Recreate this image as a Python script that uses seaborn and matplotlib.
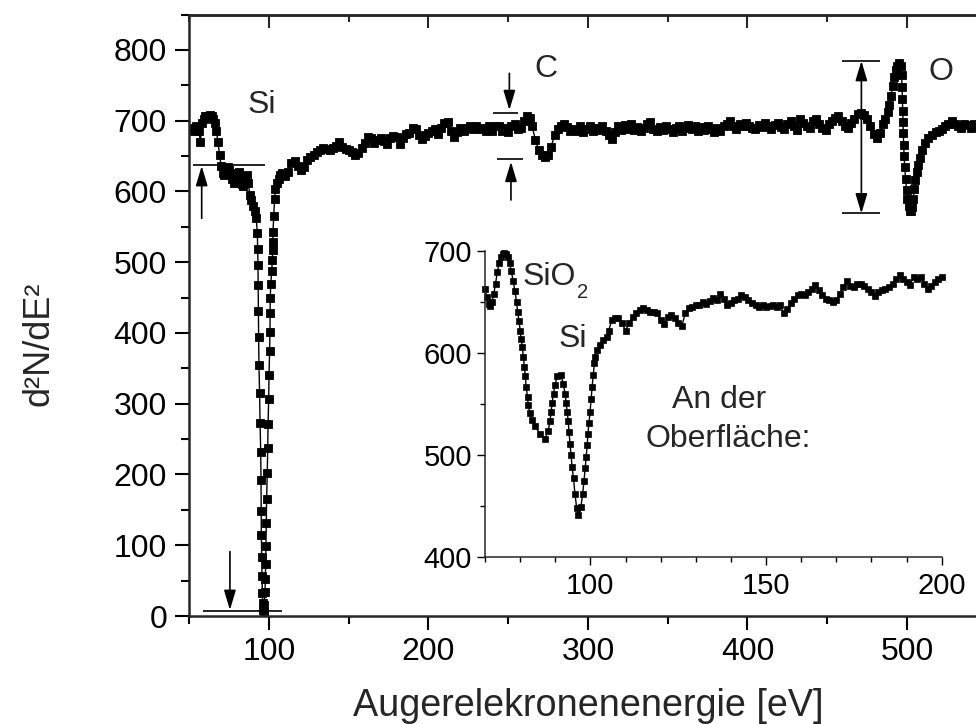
import matplotlib
matplotlib.use("Agg")
import matplotlib.pyplot as plt
from matplotlib.ticker import MultipleLocator
import pandas as pd
import seaborn as sns

# Survey spectrum: Auger electron energy [eV] and second derivative d2N/dE2
energy = [
    51, 52, 53, 54, 55, 56, 57, 58, 59, 60, 61, 62, 63, 64, 65, 66, 67, 68, 69, 70,
    71, 72, 73, 74, 75, 76, 77, 78, 79, 80, 81, 82, 83, 84, 85, 86, 87, 88, 89, 90,
    91, 92,
    92.7, 92.9, 93.1, 93.2, 93.3, 93.5, 93.7, 94.1, 94.4, 94.8, 95.0, 95.1, 95.2, 95.4,
    95.6, 95.8, 96.1, 96.4, 96.7, 97.0,
    97.1, 97.5, 97.7, 97.9, 98.1, 98.3, 98.5, 98.9, 99.2, 99.4, 99.8, 100.0, 100.4,
    100.6, 100.7, 100.8, 101.1, 101.7, 102.1, 102.3, 102.4, 102.5,
    103.0, 103.5, 104, 105, 106, 107, 108, 110, 112, 114, 116, 118, 120, 122, 124, 126,
    128, 130, 132, 134, 136, 138, 140, 142, 144, 146, 148, 150, 152, 154, 156, 158,
    160, 162, 164, 166, 168, 170, 172, 174, 176, 178, 180, 182, 184, 186, 188, 190,
    192, 194, 196, 198, 200, 202, 204, 206, 208, 210, 212, 214, 216, 218, 220, 222,
    224, 226, 228, 230, 232, 234, 236, 238, 240, 242, 244, 246, 248, 250, 252, 254,
    256, 258, 260, 262, 263.5, 265, 267, 269, 271, 273, 275, 277, 279, 281, 283, 285,
    287, 289, 291, 293, 295, 297, 299, 301, 303, 305, 307, 309, 311, 313, 315, 317,
    319, 321, 323, 325, 327, 329, 331, 333, 335, 337, 339, 341, 343, 345, 347, 349,
    351, 353, 355, 357, 359, 361, 363, 365, 367, 369, 371, 373, 375, 377, 379, 381,
    383, 385, 387, 389, 391, 393, 395, 397, 399, 401, 403, 405, 407, 409, 411, 413,
    415, 417, 419, 421, 423, 425, 427, 429, 431, 433, 435, 437, 439, 441, 443, 445,
    447, 449, 451, 453, 455, 457, 459, 461, 463, 465, 467, 469, 471, 473, 475, 477,
    479, 481, 483, 485, 486.5, 488, 489, 490, 491, 492, 493, 494, 495, 496,
    496.6, 496.9, 497.1, 497.3, 497.5, 497.7, 497.9, 498.2, 498.6, 499.1, 499.7,
    500.3, 501.0, 501.8, 502.6, 503.3, 503.9, 504.5, 505.2, 506.0, 507.0, 508.2,
    509.6, 511.2, 513.0, 515.5, 518, 520, 522, 524, 526, 528, 530, 532, 534, 536,
    538, 540, 542, 544, 546,
]
signal = [
    688, 690, 686, 692, 689, 686, 670, 697, 703, 706, 707, 705, 708, 706, 703, 697, 686, 670, 652, 636,
    626, 623, 628, 634, 630, 626, 618, 612, 618, 622, 628, 620, 610, 608, 618, 624, 612, 595, 588, 580,
    572, 562,
    541, 518, 496, 468, 431, 394, 355, 315, 273, 232, 192, 149, 114, 84,
    56, 32, 18, 8, 3, 6,
    16, 34, 53, 73, 99, 132, 166, 202, 237, 271, 306, 341, 375,
    402, 428, 450, 469, 487, 503, 517, 529, 543,
    565, 590, 603, 612, 618, 623, 626, 622, 628, 640, 643, 636, 631, 634, 645, 649,
    652, 656, 659, 662, 660, 658, 662, 664, 670, 663, 660, 659, 656, 651, 654, 661,
    668, 677, 675, 669, 673, 676, 672, 667, 675, 679, 677, 667, 675, 681, 683, 690,
    688, 680, 674, 679, 683, 685, 688, 681, 690, 697, 698, 685, 677, 684, 690, 686,
    690, 692, 688, 693, 688, 690, 685, 692, 686, 693, 692, 685, 690, 684, 692, 695,
    689, 690, 700, 707, 704, 692, 673, 659, 652, 649, 652, 663, 680, 689, 692, 696,
    691, 685, 689, 686, 692, 684, 689, 693, 685, 690, 687, 692, 685, 680, 674, 684,
    692, 687, 694, 689, 695, 687, 691, 686, 690, 696, 698, 689, 685, 691, 687, 693,
    689, 684, 690, 692, 686, 690, 694, 688, 692, 686, 691, 687, 693, 689, 684, 690,
    686, 692, 695, 699, 693, 688, 696, 692, 697, 693, 690, 688, 694, 691, 697, 693,
    689, 694, 697, 691, 688, 695, 699, 692, 687, 703, 697, 692, 690, 699, 703, 695,
    690, 687, 696, 700, 704, 707, 699, 692, 690, 697, 703, 709, 711, 708, 702, 693,
    681, 676, 683, 695, 703, 712, 722, 735, 749, 762, 772, 778, 781, 778,
    765, 748, 731, 714, 698, 682, 666, 650, 634, 618, 602,
    589, 579, 573, 572, 578, 590, 603, 616, 627, 637, 648,
    659, 668, 675, 680, 684, 686, 689, 692, 695, 699, 695, 692, 690, 696,
    694, 690, 695, 693, 691,
]

# Surface spectrum shown in the inset
energy_surface = [
    70.0, 70.5, 71.0, 71.5, 72.0, 72.5, 73.0, 73.5, 74.0, 74.5, 75.0, 75.5, 76.0, 76.5,
    77.0, 77.5, 78.0, 78.5, 79.0, 79.3, 79.7, 80.0, 80.3, 80.6, 80.9, 81.2, 81.5, 81.7,
    82.1, 82.3, 82.8, 83.3, 84.2, 85.7, 87.1, 88.0, 88.5, 88.8, 89.1, 89.5, 89.9, 90.6,
    91.6, 92.3, 92.8, 93.1, 93.4, 93.7, 93.9, 94.2, 94.5, 94.8, 95.2, 95.6, 96.1, 96.6,
    97.3, 97.8, 98.2, 98.5, 98.8, 99.1, 99.3, 99.6, 99.9, 100.2, 100.5, 100.8, 101.1,
    101.3, 101.8, 102.8, 103.7, 104.7, 105.2, 106.1, 107.0,
    108, 109, 110, 111, 112, 113, 114, 115, 116, 117, 118, 119, 120, 121, 122, 123,
    124, 125, 126, 127, 128, 129, 130, 131, 132, 133, 134, 135, 136, 137, 138, 139,
    140, 141, 142, 143, 144, 145, 146, 147, 148, 149, 150, 151, 152, 153, 154, 155,
    156, 157, 158, 159, 160, 161, 162, 163, 164, 165, 166, 167, 168, 169, 170, 171,
    172, 173, 174, 175, 176, 177, 178, 179, 180, 181, 182, 183, 184, 185, 186, 187,
    188, 189, 190, 191, 192, 193, 194, 195, 196, 197, 198, 199, 200,
]
signal_surface = [
    663, 655, 648, 646, 650, 658, 668, 679, 688, 694, 697, 698, 697, 694,
    688, 680, 671, 661, 650, 640, 631, 622, 614, 606, 596, 586, 577, 567,
    557, 549, 541, 534, 528, 521, 516, 524, 533, 542, 551, 560, 569, 577,
    578, 570, 560, 551, 542, 533, 523, 511, 500, 488, 477, 462, 448, 441,
    449, 462, 475, 487, 498, 510, 521, 531, 542, 555, 567, 578, 590,
    596, 603, 608, 613, 616, 622, 632, 634,
    634, 629, 622, 629, 635, 639, 642, 644, 642, 640, 640, 639, 632, 628, 635, 637,
    634, 629, 626, 639, 644, 645, 647, 647, 650, 648, 651, 654, 652, 658, 653, 647,
    649, 652, 653, 657, 655, 652, 649, 647, 645, 647, 645, 646, 647, 645, 647, 639,
    643, 649, 653, 657, 658, 657, 660, 663, 667, 662, 657, 653, 652, 650, 652, 658,
    665, 671, 666, 665, 668, 668, 666, 663, 660, 656, 660, 662, 663, 665, 668, 673,
    676, 673, 670, 667, 675, 673, 675, 668, 663, 666, 670, 673, 675,
]

# Peak-height markers: horizontal bars (value, x_from, x_to) and arrows (x, tail, tip)
bars = [
    (637.5, 52.5, 97.5),
    (7.0, 58.8, 108.0),
    (711.4, 240.2, 256.3),
    (646.0, 242.7, 259.0),
    (784.5, 459.4, 483.0),
    (569.0, 459.4, 483.0),
]
arrows = [
    (57.8, 562, 636),
    (75.5, 91, 8.5),
    (250.7, 767, 715),
    (251.7, 588, 642),
]

sns.set_style("ticks")
plt.rcParams["font.family"] = ["Liberation Sans", "DejaVu Sans"]
plt.rcParams["axes.linewidth"] = 1.8

W, H = 976, 724
fig = plt.figure(figsize=(W / 100, H / 100), dpi=100)

# main axes (right end runs past the figure edge)
x_left, x_right, y_top, y_bot = 189.25, 986.75, 14.6, 616.0
ax = fig.add_axes([x_left / W, 1 - y_bot / H, (x_right - x_left) / W, (y_bot - y_top) / H])
ax.set_facecolor("white")

main_df = pd.DataFrame({"E": energy, "S": signal})
sns.lineplot(data=main_df, x="E", y="S", ax=ax, estimator=None, sort=False,
             color="black", linewidth=1.0, marker="s", markersize=6.0,
             markeredgewidth=0.6, markeredgecolor="black", markerfacecolor="black")

ax.set_xlim(50, 550)
ax.set_ylim(0, 850)
ax.xaxis.set_major_locator(MultipleLocator(100))
ax.xaxis.set_minor_locator(MultipleLocator(50))
ax.yaxis.set_major_locator(MultipleLocator(100))
ax.yaxis.set_minor_locator(MultipleLocator(50))
ax.tick_params(axis="both", which="both", direction="out", width=1.5,
               top=False, right=False, labelsize=23, colors="black")
ax.tick_params(axis="both", which="major", length=10)
ax.tick_params(axis="both", which="minor", length=5.5)
ax.tick_params(axis="x", which="major", pad=5)
ax.tick_params(axis="y", which="major", pad=6)
ax.spines["right"].set_visible(False)

top = ax.secondary_xaxis("top")
top.xaxis.set_major_locator(MultipleLocator(100))
top.xaxis.set_minor_locator(MultipleLocator(50))
top.tick_params(axis="x", which="both", direction="in", width=1.5, labeltop=False)
top.tick_params(axis="x", which="major", length=9.5)
top.tick_params(axis="x", which="minor", length=5)
top.spines["top"].set_linewidth(1.8)

ax.set_xlabel("Augerelekronenenergie [eV]", fontsize=27.2)
ax.xaxis.set_label_coords(0.5, -(715.5 - y_bot) / (y_bot - y_top))
ax.xaxis.label.set_va("baseline")
ax.set_ylabel("d²N/dE²", fontsize=26)
ax.yaxis.set_label_coords((39 - x_left) / (x_right - x_left), (y_bot - 344) / (y_bot - y_top))
ax.yaxis.label.set_va("center")
ax.yaxis.label.set_ha("center")

for y, x0, x1 in bars:
    ax.plot([x0, x1], [y, y], color="black", lw=1.2, solid_capstyle="butt")

head = "-|>,head_length=0.6,head_width=0.18"
for x, tail, tip in arrows:
    ax.annotate("", xy=(x, tip), xytext=(x, tail),
                arrowprops=dict(arrowstyle=head, mutation_scale=20, lw=1.2,
                                color="black", shrinkA=0, shrinkB=0))
ax.annotate("", xy=(471.4, 784.5), xytext=(471.4, 569.0),
            arrowprops=dict(arrowstyle="<|-|>,head_length=0.6,head_width=0.18",
                            mutation_scale=20, lw=1.2, color="black",
                            shrinkA=0, shrinkB=0))

ax.text(95.6, 711, "Si", fontsize=23, ha="center", va="baseline")
ax.text(273.7, 762, "C", fontsize=23, ha="center", va="baseline")
ax.text(521.3, 757.6, "O", fontsize=23, ha="center", va="baseline")

# inset: surface spectrum
i_left, i_right, i_top, i_bot = 485.0, 941.7, 251.0, 557.0
axi = fig.add_axes([i_left / W, 1 - i_bot / H, (i_right - i_left) / W, (i_bot - i_top) / H])
axi.set_facecolor("none")
surf_df = pd.DataFrame({"E": energy_surface, "S": signal_surface})
sns.lineplot(data=surf_df, x="E", y="S", ax=axi, estimator=None, sort=False,
             color="black", linewidth=1.0, marker="s", markersize=4.0,
             markeredgewidth=0.5, markeredgecolor="black", markerfacecolor="black",
             clip_on=False)
axi.set_xlim(70, 200)
axi.set_ylim(400, 700)
axi.xaxis.set_major_locator(MultipleLocator(50))
axi.xaxis.set_minor_locator(MultipleLocator(10))
axi.yaxis.set_major_locator(MultipleLocator(100))
axi.yaxis.set_minor_locator(MultipleLocator(50))
for side in ("top", "right"):
    axi.spines[side].set_visible(False)
for side in ("left", "bottom"):
    axi.spines[side].set_linewidth(1.1)
axi.tick_params(axis="both", which="both", direction="out", width=1.0,
                labelsize=21, colors="black")
axi.tick_params(axis="both", which="major", length=5.5)
axi.tick_params(axis="both", which="minor", length=3.5)
axi.tick_params(axis="x", which="major", pad=5.5)
axi.tick_params(axis="y", which="major", pad=4)
axi.set_xlabel("")
axi.set_ylabel("")

axi.text(80.8, 666.5, "SiO", fontsize=23, ha="left", va="baseline")
axi.text(96.2, 653.7, "2", fontsize=14.5, ha="left", va="baseline")
axi.text(95.1, 605.7, "Si", fontsize=23, ha="center", va="baseline")
axi.text(136.7, 546.0, "An der", fontsize=23, ha="center", va="baseline")
axi.text(139.2, 507.8, "Oberfläche:", fontsize=23, ha="center", va="baseline")

fig.savefig("out.png", dpi=100, facecolor="white")
